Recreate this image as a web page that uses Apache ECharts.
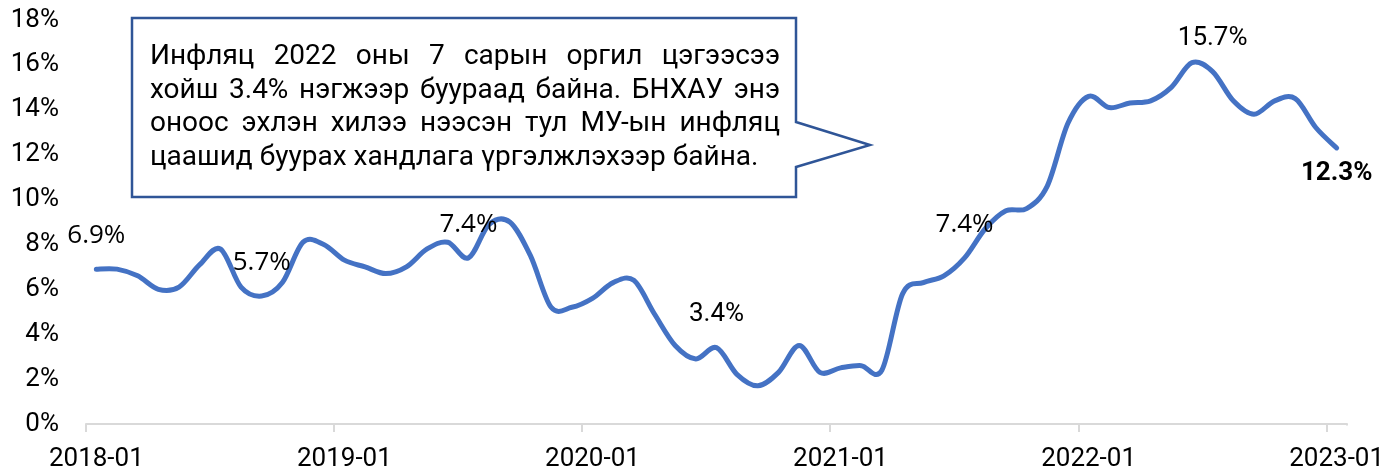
<!DOCTYPE html>
<html>
<head>
<meta charset="utf-8">
<script src="https://cdn.jsdelivr.net/npm/echarts@6/dist/echarts.min.js"></script>
<style>
html,body{margin:0;padding:0;background:#fff;}
#chart{width:1397px;height:475px;}
</style>
</head>
<body>
<div id="chart"></div>
<script>
// ---------------- data ----------------
const categories = [
  '2018-01','2018-02','2018-03','2018-04','2018-05','2018-06','2018-07','2018-08','2018-09','2018-10','2018-11','2018-12',
  '2019-01','2019-02','2019-03','2019-04','2019-05','2019-06','2019-07','2019-08','2019-09','2019-10','2019-11','2019-12',
  '2020-01','2020-02','2020-03','2020-04','2020-05','2020-06','2020-07','2020-08','2020-09','2020-10','2020-11','2020-12',
  '2021-01','2021-02','2021-03','2021-04','2021-05','2021-06','2021-07','2021-08','2021-09','2021-10','2021-11','2021-12',
  '2022-01','2022-02','2022-03','2022-04','2022-05','2022-06','2022-07','2022-08','2022-09','2022-10','2022-11','2022-12',
  '2023-01'
];
const inflation = [
  6.9, 6.9, 6.6, 6.0, 6.1, 7.1, 7.8, 6.1, 5.7, 6.3, 8.1, 8.0,
  7.3, 7.0, 6.7, 7.0, 7.8, 8.1, 7.4, 8.9, 9.0, 7.5, 5.2, 5.2,
  5.6, 6.3, 6.4, 4.9, 3.5, 2.9, 3.4, 2.2, 1.7, 2.3, 3.5, 2.3,
  2.5, 2.6, 2.4, 5.8, 6.3, 6.6, 7.4, 8.7, 9.5, 9.6, 10.6, 13.4,
  14.6, 14.1, 14.3, 14.4, 15.0, 16.1, 15.7, 14.4, 13.8, 14.4, 14.5, 13.2,
  12.3
];
const labeledPoints = [0, 8, 18, 30, 42, 54];   // labels above the line
const boldLabelPoint = 60;                       // last value, bold, below
const yMin = 0, yMax = 18, yInterval = 2;
const calloutLines = [
  'Инфляц 2022 оны 7 сарын оргил цэгээсээ',
  'хойш 3.4% нэгжээр буураад байна. БНХАУ энэ',
  'оноос эхлэн хилээ нээсэн тул МУ-ын инфляц',
  'цаашид буурах хандлага үргэлжлэхээр байна.'
];

// ---------------- styling / layout ----------------
const LINE_COLOR = '#4472C4';
const fmt = v => v.toFixed(1) + '%';
const segoeLike = {0:true, 8:true, 18:true, 42:true};

const seriesData = inflation.map((v, i) => {
  if (labeledPoints.indexOf(i) >= 0) {
    return {
      value: v,
      label: {
        show: true, position: 'top', distance: 20,
        fontFamily: segoeLike[i] ? '"Open Sans"' : 'Roboto',
        fontSize: 26, color: '#000', formatter: p => fmt(p.value)
      }
    };
  }
  if (i === boldLabelPoint) {
    return {
      value: v,
      label: {
        show: true, position: 'bottom', distance: 12, offset: [3, 0],
        fontFamily: 'Roboto', fontWeight: 'bold',
        fontSize: 26, color: '#000', formatter: p => fmt(p.value)
      }
    };
  }
  return v;
});

// Excel-style smoothed line (Catmull-Rom Bezier) through the axis scales
function renderSmoothLine(params, api) {
  if (params.dataIndex !== 0) return null;
  const pts = inflation.map((v, i) => api.coord([i, v]));
  const n = pts.length;
  let d = 'M' + pts[0][0] + ' ' + pts[0][1];
  for (let i = 0; i < n - 1; i++) {
    const p0 = pts[Math.max(i - 1, 0)], p1 = pts[i], p2 = pts[i + 1], p3 = pts[Math.min(i + 2, n - 1)];
    const c1x = p1[0] + (p2[0] - p0[0]) / 6, c1y = p1[1] + (p2[1] - p0[1]) / 6;
    const c2x = p2[0] - (p3[0] - p1[0]) / 6, c2y = p2[1] - (p3[1] - p1[1]) / 6;
    d += ' C' + c1x + ' ' + c1y + ' ' + c2x + ' ' + c2y + ' ' + p2[0] + ' ' + p2[1];
  }
  return {
    type: 'path',
    shape: { pathData: d },
    style: { fill: 'none', stroke: LINE_COLOR, lineWidth: 5, lineCap: 'round', lineJoin: 'round' }
  };
}

// callout (speech bubble) geometry in px
const bubble = [[132,18],[796,18],[796,122],[870,145],[796,167],[796,197],[132,197]];
const CALLOUT_FS = 28;
const textLeft = 150, textRight = 780, lineY0 = 57, lineGap = 33.5;

function calloutGraphics() {
  const els = [{
    type: 'polygon', z: 100,
    shape: { points: bubble },
    style: { fill: '#fff', stroke: '#2F5597', lineWidth: 2.5 }
  }];
  const ctx = document.createElement('canvas').getContext('2d');
  const font = CALLOUT_FS + 'px Roboto';
  ctx.font = font;
  calloutLines.forEach((line, li) => {
    const words = line.split(' ');
    const widths = words.map(w => ctx.measureText(w).width);
    const total = widths.reduce((a, b) => a + b, 0);
    const justify = li < calloutLines.length - 1;
    const gap = justify ? (textRight - textLeft - total) / (words.length - 1) : ctx.measureText(' ').width;
    let x = textLeft;
    words.forEach((w, wi) => {
      els.push({
        type: 'text', z: 101, x: x, y: lineY0 + li * lineGap,
        style: { text: w, font: font, fill: '#000', align: 'left', verticalAlign: 'middle' }
      });
      x += widths[wi] + gap;
    });
  });
  return els;
}

const chart = echarts.init(document.getElementById('chart'), null, { renderer: 'canvas' });
chart.setOption({
  animation: false,
  backgroundColor: '#fff',
  grid: { left: 86, right: 50, top: 20, bottom: 51, containLabel: false, outerBoundsMode: 'none' },
  xAxis: {
    type: 'category',
    data: categories,
    boundaryGap: true,
    axisLine: { show: true, lineStyle: { color: '#d9d9d9', width: 2 } },
    axisTick: { show: true, interval: 11, length: 8, alignWithLabel: false, lineStyle: { color: '#d9d9d9', width: 2 } },
    axisLabel: { interval: 11, fontFamily: 'Roboto', fontSize: 26, color: '#000', margin: 22 },
    splitLine: { show: false }
  },
  yAxis: {
    type: 'value',
    min: yMin, max: yMax, interval: yInterval,
    axisLine: { show: false },
    axisTick: { show: false },
    splitLine: { show: false },
    axisLabel: { formatter: '{value}%', fontFamily: 'Roboto', fontSize: 26, color: '#000', margin: 27 }
  },
  series: [
    {
      type: 'custom',
      data: [[0, inflation[0]]],
      renderItem: renderSmoothLine,
      silent: true,
      z: 2
    },
    {
      type: 'line',
      data: seriesData,
      symbol: 'circle',
      symbolSize: 1,
      showSymbol: true,
      itemStyle: { color: 'rgba(0,0,0,0)' },
      lineStyle: { width: 0, color: 'rgba(0,0,0,0)' },
      labelLayout: { hideOverlap: false },
      z: 3
    }
  ],
  graphic: calloutGraphics()
});

// hide the extra boundary tick ECharts adds at the far right end of a band axis
(function () {
  const lastIdx = categories.length - 1;
  const x0 = chart.convertToPixel({ xAxisIndex: 0 }, lastIdx);
  const x1 = chart.convertToPixel({ xAxisIndex: 0 }, lastIdx - 1);
  const endX = x0 + (x0 - x1) / 2;
  const axisY = chart.convertToPixel({ yAxisIndex: 0 }, yMin);
  const g = calloutGraphics();
  g.push({ type: 'rect', z: 50, shape: { x: endX - 3, y: axisY + 1.5, width: 6, height: 9 }, style: { fill: '#fff' } });
  chart.setOption({ graphic: g }, { replaceMerge: ['graphic'] });
})();
</script>
</body>
</html>
